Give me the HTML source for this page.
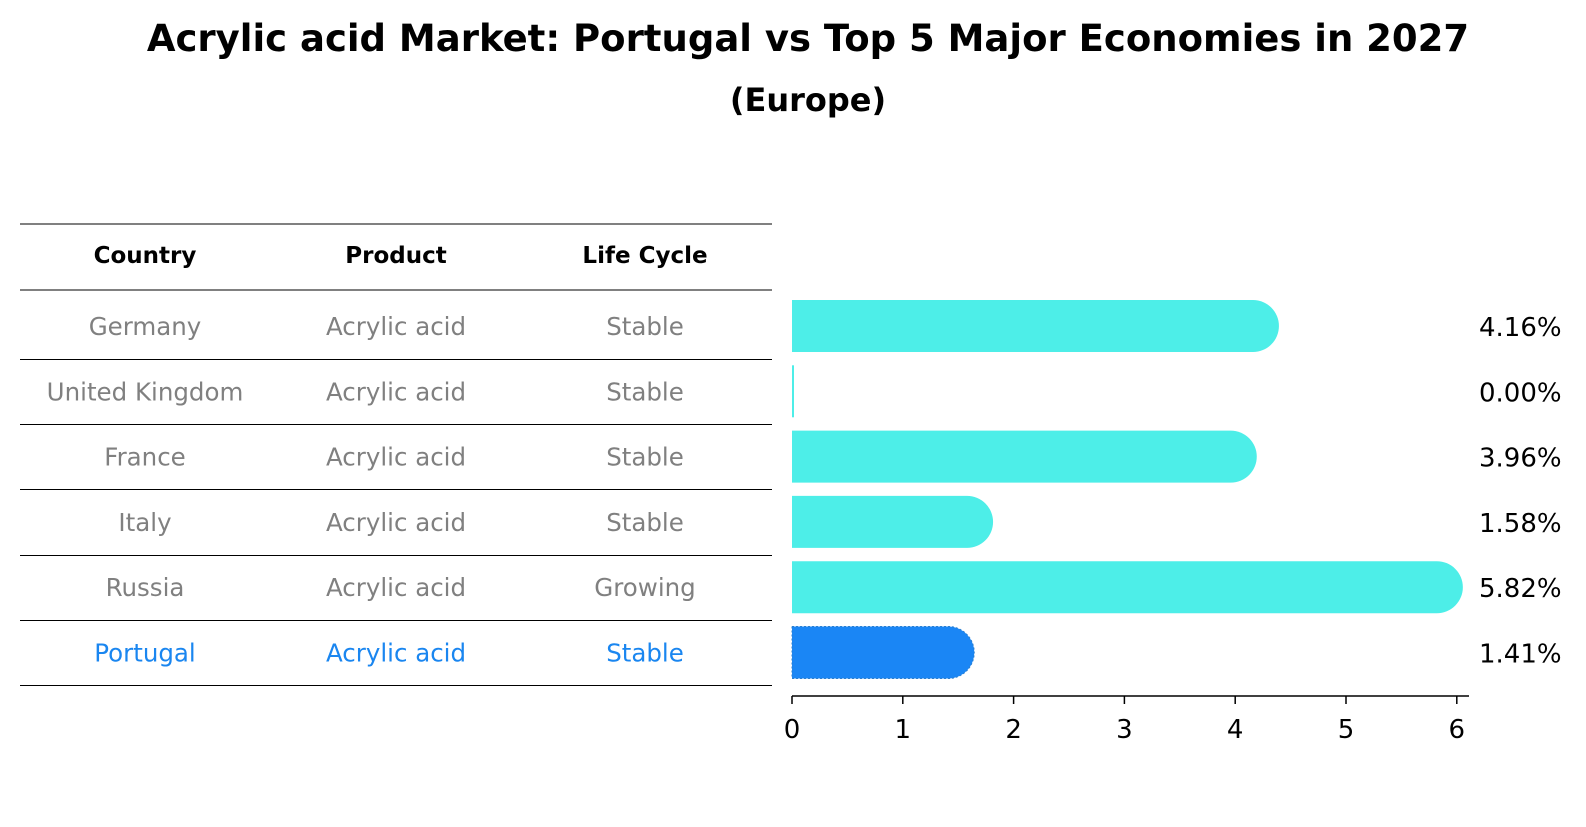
<!DOCTYPE html>
<html><head><meta charset="utf-8">
<style>
body{margin:0;background:#fff;font-family:"DejaVu Sans","Liberation Sans",sans-serif;}
svg text{font-family:"DejaVu Sans","Liberation Sans",sans-serif;}
</style></head>
<body>
<svg id="chart" width="1586" height="823" viewBox="0 0 1586 823" xmlns="http://www.w3.org/2000/svg">
<text x="808" y="51" text-anchor="middle" font-size="37" font-weight="bold">Acrylic acid Market: Portugal vs Top 5 Major Economies in 2027</text>
<text x="808" y="111" text-anchor="middle" font-size="32" font-weight="bold">(Europe)</text>
<g id="table"></g>
<g id="bars"></g>
</svg>
<script>
const countries=["Germany","United Kingdom","France","Italy","Russia","Portugal"];
const products=["Acrylic acid","Acrylic acid","Acrylic acid","Acrylic acid","Acrylic acid","Acrylic acid"];
const lifeCycles=["Stable","Stable","Stable","Stable","Growing","Stable"];
const values=[4.16,0.00,3.96,1.58,5.82,1.41];
const ticks=[0,1,2,3,4,5,6];
const NS="http://www.w3.org/2000/svg";
const x0=792,unit=110.8;
const xs=v=>x0+v*unit;
const rowY=i=>326+i*65.3;
function mk(tag,attrs,parent,txt){const e=document.createElementNS(NS,tag);for(const k in attrs)e.setAttribute(k,attrs[k]);if(txt!==undefined)e.textContent=txt;parent.appendChild(e);return e;}
const tbl=document.getElementById('table');
const lineYs=[224,290];
for(let i=0;i<countries.length;i++)lineYs.push(Math.round(rowY(i)+32.6)+0.5);
lineYs.forEach((y,i)=>{const l=mk('line',{x1:20,x2:772,y1:y,y2:y,stroke:'#000','stroke-width':1},tbl);

});
const cols=[145,396,645];
["Country","Product","Life Cycle"].forEach((h,j)=>{const t=mk('text',{x:cols[j],y:263,'text-anchor':'middle','font-size':23,'font-weight':'bold'},tbl,h);

});
countries.forEach((c,i)=>{const col=i===countries.length-1?'#1a86f0':'#808080';
[c,products[i],lifeCycles[i]].forEach((v,j)=>{const t=mk('text',{x:cols[j],y:rowY(i)+9,'text-anchor':'middle','font-size':24.5,fill:col},tbl,v);

});});
const g=document.getElementById('bars');
const h=52,r=26;
values.forEach((v,i)=>{const y=rowY(i);const last=i===values.length-1;const col=last?'#1a86f5':'#4deee8';
let p;
if(v<=0){p=mk('rect',{x:x0,y:y-h/2,width:2,height:h,fill:col},g);}
else{const xe=xs(v);p=mk('path',{d:`M${x0},${y-h/2} L${xe},${y-h/2} A${r},${r} 0 0 1 ${xe},${y+h/2} L${x0},${y+h/2} Z`,fill:col},g);
if(last){p.setAttribute('stroke','#2a7fd0');p.setAttribute('stroke-dasharray','2,2');p.setAttribute('stroke-width','1');}}


const t=mk('text',{x:1479,y:y+10,'font-size':26},g,v.toFixed(2)+'%');

});
const ax=mk('line',{x1:x0,x2:1469,y1:696,y2:696,stroke:'#000','stroke-width':1.5},g);


ticks.forEach(tv=>{const tk=mk('line',{x1:xs(tv),x2:xs(tv),y1:696,y2:704,stroke:'#000','stroke-width':1.5},g);


const tl=mk('text',{x:xs(tv),y:738,'text-anchor':'middle','font-size':26},g,String(tv));

});
</script>
</body></html>
